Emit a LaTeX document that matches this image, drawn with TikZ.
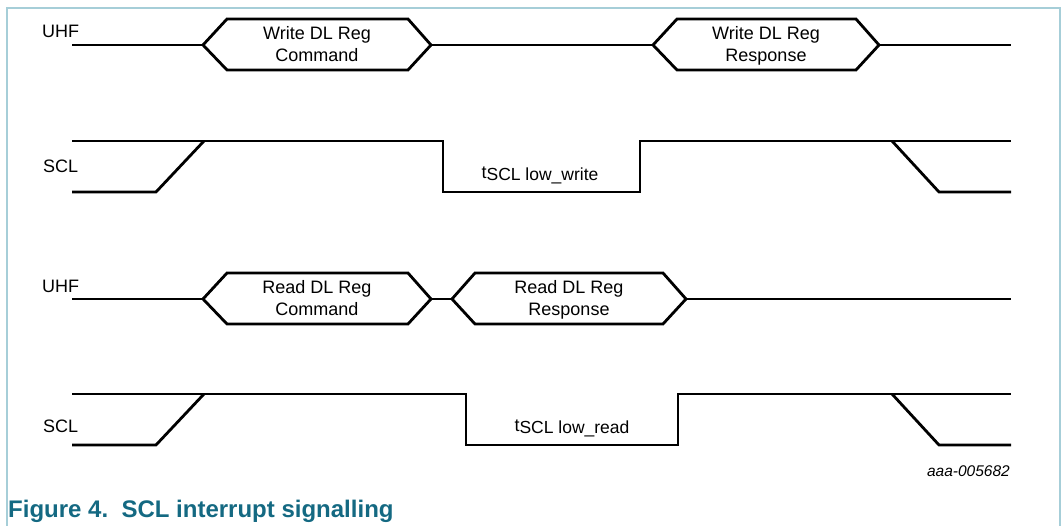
\documentclass[tikz,border=0pt]{standalone}
\usepackage{fontspec}
\setmainfont{Liberation Sans}
\usepackage{tikz}
\usetikzlibrary{positioning}
\definecolor{framecol}{RGB}{166,206,216}
\definecolor{capcol}{RGB}{20,105,130}
\tikzstyle{sig} = [line width=2.8pt, line join=miter, black]
\tikzstyle{frame} = [line width=2pt, draw=framecol]
\tikzstyle{signame} = [inner sep=0pt, anchor=base west, font=\fontsize{18}{22}\selectfont]
\tikzstyle{hexlbl} = [inner sep=0pt, align=center, font=\fontsize{18}{22}\selectfont]
\tikzstyle{tlbl} = [inner sep=0pt, anchor=base, font=\fontsize{18}{22}\selectfont]

\begin{document}
\begin{tikzpicture}[x=1pt, y=-1pt]
  \useasboundingbox (0,0) rectangle (1061,526);
  \draw[frame] (7,527) -- (7,8) -- (1060,8) -- (1060,527);

  % UHF, write
  \node (uhfw) [signame] at (42,38) {UHF};
  \draw[sig] (72,45) -- (203,45);
  \draw[sig] (203,45) -- (227,19) -- (408,19) -- (431,45) -- (408,70) -- (227,70) -- cycle;
  \draw[sig] (431,45) -- (653,45);
  \draw[sig] (653,45) -- (677,19) -- (856,19) -- (879,45) -- (856,70) -- (677,70) -- cycle;
  \draw[sig] (879,45) -- (1011,45);
  \node (wcmd) [hexlbl] at (317,46) {\strut Write DL Reg\\Command\strut};
  \node (wrsp) [hexlbl] at (766,46) {\strut Write DL Reg\\Response\strut};

  % SCL, write
  \node (sclw) [signame] at (43,173) {SCL};
  \draw[sig] (72,141) -- (443,141) -- (443,192) -- (640,192) -- (640,141) -- (1011,141);
  \draw[sig] (72,192) -- (156,192) -- (204,141);
  \draw[sig] (892,141) -- (939,192) -- (1011,192);
  \node (tw) [tlbl] at (540,179) {t\raisebox{-2pt}{\fontsize{17.5}{20}\selectfont SCL low\_write}};

  % UHF, read
  \node (uhfr) [signame] at (42,293) {UHF};
  \draw[sig] (72,299) -- (203,299);
  \draw[sig] (203,299) -- (227,273) -- (408,273) -- (431,299) -- (408,324) -- (227,324) -- cycle;
  \draw[sig] (431,299) -- (452,299);
  \draw[sig] (452,299) -- (475,273) -- (663,273) -- (686,299) -- (663,324) -- (475,324) -- cycle;
  \draw[sig] (686,299) -- (1011,299);
  \node (rcmd) [hexlbl] at (317,300) {\strut Read DL Reg\\Command\strut};
  \node (rrsp) [hexlbl] at (569,300) {\strut Read DL Reg\\Response\strut};

  % SCL, read
  \node (sclr) [signame] at (43,433) {SCL};
  \draw[sig] (72,394) -- (466,394) -- (466,445) -- (678,445) -- (678,394) -- (1011,394);
  \draw[sig] (72,445) -- (156,445) -- (204,394);
  \draw[sig] (892,394) -- (939,445) -- (1011,445);
  \node (tr) [tlbl] at (572,432) {t\raisebox{-2pt}{\fontsize{17.5}{20}\selectfont SCL low\_read}};

  \node (code) [inner sep=0pt, anchor=base east, font=\fontsize{15.5}{18}\selectfont\itshape] at (1010,477) {aaa-005682};
  \node (cap) [inner sep=0pt, anchor=base west, text=capcol, font=\fontsize{24}{28}\selectfont\bfseries] at (8,518) {Figure 4.\ \ SCL interrupt signalling};
\end{tikzpicture}
\end{document}
